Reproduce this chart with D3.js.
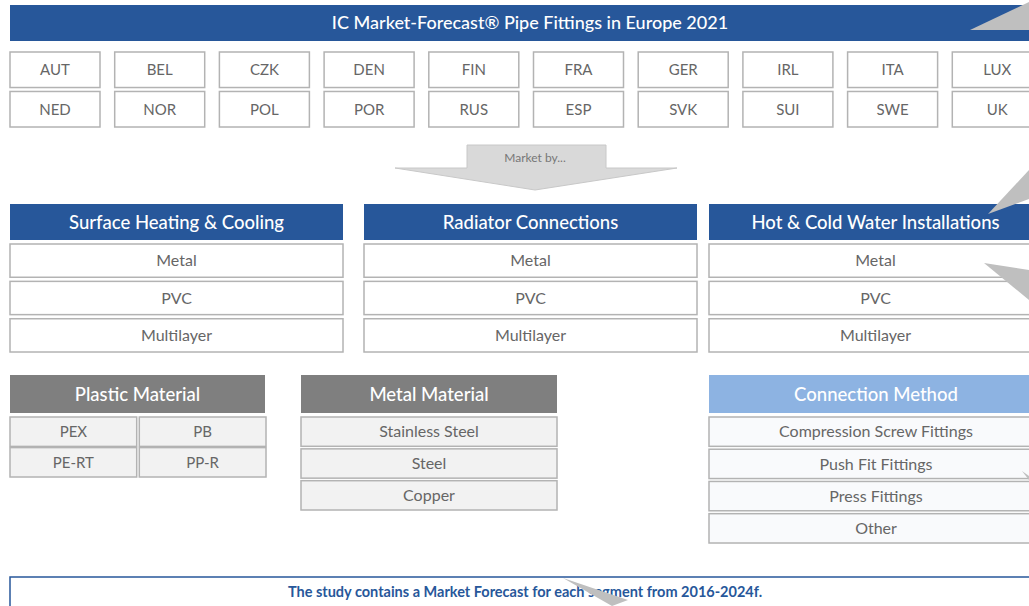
<!DOCTYPE html>
<html>
<head>
<meta charset="utf-8">
<script src="https://cdn.jsdelivr.net/npm/d3@7"></script>
<style>
  body { margin: 0; background: #fff; }
  svg { display: block; font-family: Lato, "Noto Sans", sans-serif; }
</style>
</head>
<body>
<div id="chart"></div>
<script>
// data
let title = 'IC Market-Forecast\u00AE Pipe Fittings in Europe 2021';
let countriesRow1 = ['AUT', 'BEL', 'CZK', 'DEN', 'FIN', 'FRA', 'GER', 'IRL', 'ITA', 'LUX'];
let countriesRow2 = ['NED', 'NOR', 'POL', 'POR', 'RUS', 'ESP', 'SVK', 'SUI', 'SWE', 'UK'];
let marketBy = 'Market by...';
let applications = ['Surface Heating & Cooling', 'Radiator Connections', 'Hot & Cold Water Installations'];
let pipeTypes = ['Metal', 'PVC', 'Multilayer'];
let plasticTitle = 'Plastic Material';
let plasticTypes = ['PEX', 'PB', 'PE-RT', 'PP-R'];
let metalTitle = 'Metal Material';
let metalTypes = ['Stainless Steel', 'Steel', 'Copper'];
let methodTitle = 'Connection Method';
let methods = ['Compression Screw Fittings', 'Push Fit Fittings', 'Press Fittings', 'Other'];
let footer = 'The study contains a Market Forecast for each segment from 2016-2024f.';

let w = 1029;
let h = 606;
let blue = '#27579a';
let grey = '#7f7f7f';
let lightBlue = '#8db3e2';
let textGrey = '#666';
let boxStroke = '#b3b3b3';

let svg = d3.select('#chart').append('svg').attr('width', w).attr('height', h);

// box helper
function box(g, x, y, bw, bh, label, opt) {
  g.append('rect').attr('x', x).attr('y', y).attr('width', bw).attr('height', bh)
    .attr('fill', opt.fill).attr('stroke', opt.stroke || 'none').attr('stroke-width', opt.sw || 1.5);
  g.append('text').attr('x', x + bw / 2).attr('y', y + bh / 2).attr('dy', '0.36em')
    .attr('text-anchor', 'middle').attr('fill', opt.color).attr('font-size', opt.size)
    .attr('font-weight', opt.weight || 'normal').text(label);
}

// title bar
box(svg, 10, 5, 1040, 36, title, {fill: blue, color: '#fff', size: 18, weight: 500});

// countries
let cx = d3.scaleBand().domain(d3.range(10)).range([10, 1042.3]).paddingInner(0.1404).paddingOuter(0);
let cy = d3.scaleBand().domain([0, 1]).range([52, 127]).paddingInner(0.1);
[countriesRow1, countriesRow2].forEach((row, r) => {
  row.forEach((c, i) => {
    box(svg, cx(i), cy(r), cx.bandwidth(), cy.bandwidth(), c, {fill: '#fff', stroke: boxStroke, color: textGrey, size: 15});
  });
});

// market by arrow
svg.append('path')
  .attr('d', 'M467,145 L606,145 L606,168 L677,168 L535,190 L395,168 L467,168 Z')
  .attr('fill', '#d9d9d9').attr('stroke', '#c8c8c8').attr('stroke-width', 1);
svg.append('text').attr('x', 535).attr('y', 162).attr('text-anchor', 'middle')
  .attr('fill', '#777').attr('font-size', 12).text(marketBy);

// applications
let ax = d3.scaleOrdinal().domain(applications).range([10, 364, 709]);
let aw = 333;
let rowY = d3.scaleBand().domain(pipeTypes).range([244, 352]).paddingInner(0.11);
applications.forEach(a => {
  box(svg, ax(a), 204, aw, 36, a, {fill: blue, color: '#fff', size: 18.5, weight: 500});
  pipeTypes.forEach(p => {
    box(svg, ax(a), rowY(p), aw, rowY.bandwidth(), p, {fill: '#fff', stroke: boxStroke, color: textGrey, size: 16});
  });
});

// plastic material
box(svg, 10, 375, 255, 38, plasticTitle, {fill: grey, color: '#fff', size: 18.5, weight: 500});
let px = d3.scaleBand().domain([0, 1]).range([10, 266]).paddingInner(0.02);
let py = d3.scaleBand().domain([0, 1]).range([417, 477]).paddingInner(0.04);
plasticTypes.forEach((p, i) => {
  box(svg, px(i % 2), py(Math.floor(i / 2)), px.bandwidth(), py.bandwidth(), p, {fill: '#f2f2f2', stroke: boxStroke, color: textGrey, size: 15});
});

// metal material
box(svg, 301, 375, 256, 38, metalTitle, {fill: grey, color: '#fff', size: 18.5, weight: 500});
let my = d3.scaleBand().domain(metalTypes).range([417, 510]).paddingInner(0.08);
metalTypes.forEach(m => {
  box(svg, 301, my(m), 256, my.bandwidth(), m, {fill: '#f2f2f2', stroke: boxStroke, color: textGrey, size: 16});
});

// connection method
box(svg, 709, 375, 334, 38, methodTitle, {fill: lightBlue, color: '#fff', size: 18.5, weight: 500});
let ny = d3.scaleBand().domain(methods).range([417, 543]).paddingInner(0.09);
methods.forEach(m => {
  box(svg, 709, ny(m), 334, ny.bandwidth(), m, {fill: '#f9fafc', stroke: boxStroke, color: textGrey, size: 16});
});

// footer
svg.append('rect').attr('x', 10).attr('y', 577).attr('width', 1040).attr('height', 40)
  .attr('fill', '#fff').attr('stroke', blue).attr('stroke-width', 1.5);
svg.append('text').attr('x', 525).attr('y', 592).attr('dy', '0.36em').attr('text-anchor', 'middle')
  .attr('fill', blue).attr('font-size', 14.5).attr('font-weight', 'bold').text(footer);

// cut-off grey callout pointers
let pointers = [
  'M970,30 L1029,2 L1029,30 Z',
  'M988,214 L1029,170 L1029,199 Z',
  'M984,263 L1029,270 L1029,300 Z',
  'M1022,471 L1029,476 L1029,480 Z',
  'M563,578 L628,600 L612,606 Z'
];
svg.selectAll('path.pointer').data(pointers).enter().append('path')
  .attr('class', 'pointer').attr('d', d => d).attr('fill', '#bfbfbf');
</script>
</body>
</html>
